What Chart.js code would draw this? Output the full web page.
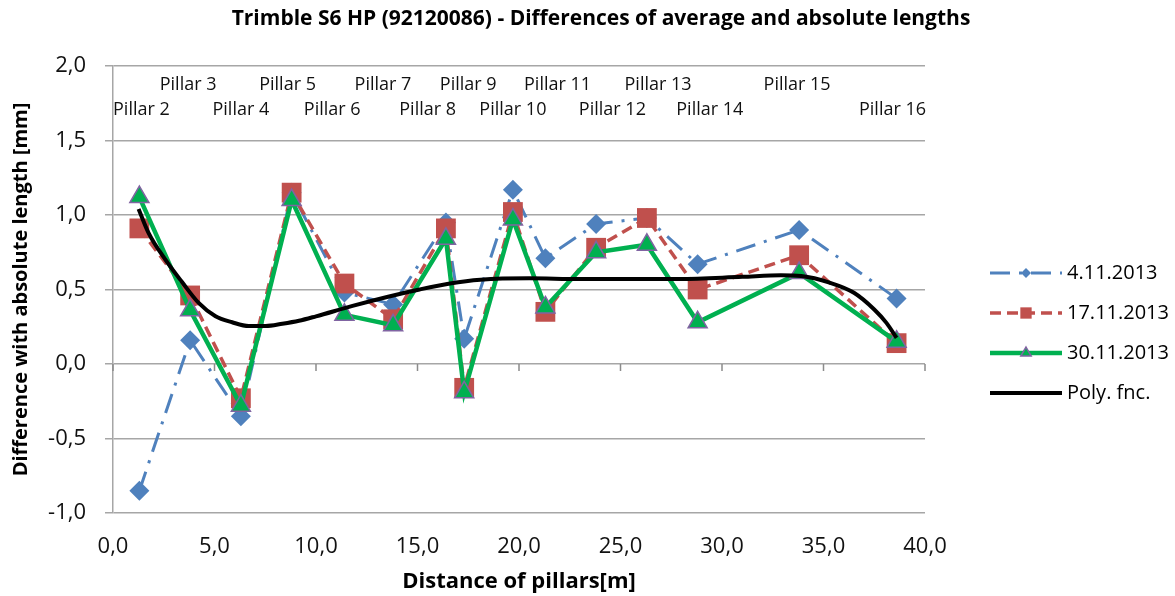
<!DOCTYPE html>
<html>
<head>
<meta charset="utf-8">
<script src="https://cdn.jsdelivr.net/npm/chart.js@4/dist/chart.umd.min.js"></script>
<style>
  html, body { margin: 0; padding: 0; background: #fff; }
  #wrap { width: 1175px; height: 596px; }
</style>
</head>
<body>
<div id="wrap"><canvas id="chart" width="1175" height="596"></canvas></div>
<script>
// Data
const pillarNames = ['Pillar 2', 'Pillar 3', 'Pillar 4', 'Pillar 5', 'Pillar 6', 'Pillar 7', 'Pillar 8', 'Pillar 9',
    'Pillar 10', 'Pillar 11', 'Pillar 12', 'Pillar 13', 'Pillar 14', 'Pillar 15', 'Pillar 16'];
// where each pillar name sits along the distance axis
const pillarLabelX = [1.4, 3.7, 6.3, 8.6, 10.8, 13.3, 15.5, 17.5, 19.7, 21.9, 24.6, 26.85, 29.4, 33.7, 38.4];
const distances = [1.3, 3.8, 6.3, 8.8, 11.4, 13.8, 16.4, 17.3, 19.7, 21.3, 23.8, 26.3, 28.8, 33.8, 38.6];
const diff_04_11 = [-0.85, 0.16, -0.35, 1.15, 0.48, 0.40, 0.95, 0.17, 1.17, 0.71, 0.94, 0.98, 0.67, 0.90, 0.44];
const diff_17_11 = [0.91, 0.46, -0.23, 1.15, 0.54, 0.30, 0.91, -0.16, 1.02, 0.35, 0.78, 0.98, 0.50, 0.73, 0.14];
const diff_30_11 = [1.12, 0.36, -0.28, 1.10, 0.33, 0.26, 0.84, -0.19, 0.97, 0.38, 0.75, 0.80, 0.28, 0.61, 0.15];
const polyX = [1.26, 1.75, 2.58, 3.4, 4.22, 5.05, 5.87, 6.69, 7.52, 8.34, 9.16, 10.0, 11.8, 13.5, 15.1, 16.6, 18.1,
    20.5, 23.0, 27.9, 31.0, 32.9, 33.9, 35.3, 36.5, 37.5, 38.1, 38.6];
const polyY = [1.04, 0.88, 0.70, 0.55, 0.41, 0.32, 0.28, 0.255, 0.255, 0.27, 0.29, 0.32, 0.39, 0.45, 0.50, 0.54, 0.565,
    0.575, 0.57, 0.57, 0.585, 0.595, 0.59, 0.546, 0.478, 0.366, 0.276, 0.175];

const seriesLabels = ['4.11.2013', '17.11.2013', '30.11.2013', 'Poly. fnc.'];
const yTicks = [-1.0, -0.5, 0.0, 0.5, 1.0, 1.5, 2.0];
const chartTitle = 'Trimble S6 HP (92120086) - Differences of average and absolute lengths';

const FONT = '"Open Sans", "Liberation Sans", sans-serif';

function toPoints(xs, ys) {
    return xs.map((x, i) => ({ x: x, y: ys[i] }));
}

function fmt(v) {
    return v.toFixed(1).replace('.', ',');
}

// Title, pillar names, zero axis ticks and legend
const decorations = {
    id: 'decorations',
    beforeDatasetsDraw(chart) {
        const ctx = chart.ctx;
        const xs = chart.scales.x;
        const y0 = chart.scales.y.getPixelForValue(0);
        ctx.save();
        ctx.strokeStyle = '#8c8c8c';
        ctx.lineWidth = 1.5;
        ctx.beginPath();
        for (let v = 0; v <= 40; v += 5) {
            const px = xs.getPixelForValue(v);
            ctx.moveTo(px, y0);
            ctx.lineTo(px, y0 + 7);
        }
        ctx.stroke();
        ctx.restore();
    },
    afterDraw(chart) {
        const ctx = chart.ctx;
        const xs = chart.scales.x;
        const area = chart.chartArea;
        ctx.save();

        // title
        ctx.fillStyle = '#000';
        ctx.font = 'bold 21px ' + FONT;
        ctx.textAlign = 'center';
        ctx.textBaseline = 'middle';
        ctx.fillText(chartTitle, 601, 19);

        // pillar names
        ctx.font = '18px ' + FONT;
        ctx.fillStyle = '#111';
        pillarNames.forEach((name, i) => {
            const px = xs.getPixelForValue(pillarLabelX[i]);
            const py = (i % 2 === 1) ? area.top + 19 : area.top + 44;
            ctx.fillText(name, px, py);
        });

        // legend
        const lx = 990, lw = 72;
        const rows = [273, 313, 353, 393];
        chart.data.datasets.forEach((ds, i) => {
            const ry = rows[i];
            ctx.save();
            ctx.strokeStyle = ds.borderColor;
            ctx.lineWidth = ds.borderWidth;
            ctx.setLineDash(ds.borderDash || []);
            ctx.beginPath();
            ctx.moveTo(lx, ry);
            ctx.lineTo(lx + lw, ry);
            ctx.stroke();
            if (ds.pointStyle) {
                ctx.setLineDash([]);
                ctx.fillStyle = ds.pointBackgroundColor;
                ctx.strokeStyle = ds.pointBorderColor;
                ctx.lineWidth = ds.pointBorderWidth;
                Chart.helpers.drawPoint(ctx, {
                    pointStyle: ds.pointStyle,
                    radius: ds.legendRadius,
                    borderWidth: ds.pointBorderWidth,
                    rotation: 0
                }, lx + lw / 2, ry);
            }
            ctx.restore();
            ctx.fillStyle = '#000';
            ctx.font = '20px ' + FONT;
            ctx.textAlign = 'left';
            ctx.fillText(seriesLabels[i], lx + lw + 5, ry);
        });
        ctx.restore();
    }
};

const datasets = [
    {
        label: seriesLabels[0],
        data: toPoints(distances, diff_04_11),
        borderColor: '#4f81bd',
        borderWidth: 3,
        borderDash: [20, 9, 3, 9],
        pointStyle: 'rectRot',
        pointRadius: 10,
        legendRadius: 5,
        pointBackgroundColor: '#4f81bd',
        pointBorderColor: '#4f81bd',
        pointBorderWidth: 0,
        order: 4
    },
    {
        label: seriesLabels[1],
        data: toPoints(distances, diff_17_11),
        borderColor: '#c0504d',
        borderWidth: 3.5,
        borderDash: [11, 6],
        pointStyle: 'rect',
        pointRadius: 14,
        legendRadius: 8,
        pointBackgroundColor: '#c0504d',
        pointBorderColor: '#c0504d',
        pointBorderWidth: 0,
        order: 3
    },
    {
        label: seriesLabels[2],
        data: toPoints(distances, diff_30_11),
        borderColor: '#00b050',
        borderWidth: 4.5,
        pointStyle: 'triangle',
        pointRadius: 11,
        legendRadius: 6,
        pointBackgroundColor: '#00b050',
        pointBorderColor: '#8064a2',
        pointBorderWidth: 1.5,
        order: 2
    },
    {
        label: seriesLabels[3],
        data: toPoints(polyX, polyY),
        borderColor: '#000000',
        borderWidth: 4,
        pointRadius: 0,
        pointStyle: false,
        cubicInterpolationMode: 'monotone',
        order: 1
    }
];

new Chart(document.getElementById('chart'), {
    type: 'line',
    data: { datasets: datasets },
    options: {
        responsive: false,
        animation: false,
        devicePixelRatio: 1,
        layout: { padding: { left: 0, right: 250, top: 66, bottom: 0 } },
        plugins: {
            legend: { display: false },
            title: { display: false },
            tooltip: { enabled: false }
        },
        scales: {
            x: {
                type: 'linear',
                min: 0,
                max: 40,
                ticks: {
                    stepSize: 5,
                    padding: 13,
                    color: '#111',
                    font: { family: FONT, size: 22 },
                    callback: v => fmt(v)
                },
                grid: { display: false },
                border: { display: false },
                title: {
                    display: true,
                    text: 'Distance of pillars[m]',
                    color: '#000',
                    font: { family: FONT, size: 22, weight: 'bold' },
                    padding: { top: 2, bottom: 1 }
                },
                afterFit: s => { s.height = 83; }
            },
            y: {
                min: -1,
                max: 2,
                afterBuildTicks: s => { s.ticks = yTicks.map(v => ({ value: v })); },
                ticks: {
                    padding: 19,
                    color: '#111',
                    font: { family: FONT, size: 22 },
                    callback: v => fmt(v)
                },
                grid: { color: '#a6a6a6', lineWidth: 1.5, tickLength: 8 },
                border: { display: true, color: '#a6a6a6', width: 1.5 },
                title: {
                    display: true,
                    text: 'Difference with absolute length [mm]',
                    color: '#000',
                    font: { family: FONT, size: 20, weight: 'bold' },
                    padding: { top: 9, bottom: 0 }
                },
                afterFit: s => { s.width = 113; }
            }
        }
    },
    plugins: [decorations]
});
</script>
</body>
</html>
